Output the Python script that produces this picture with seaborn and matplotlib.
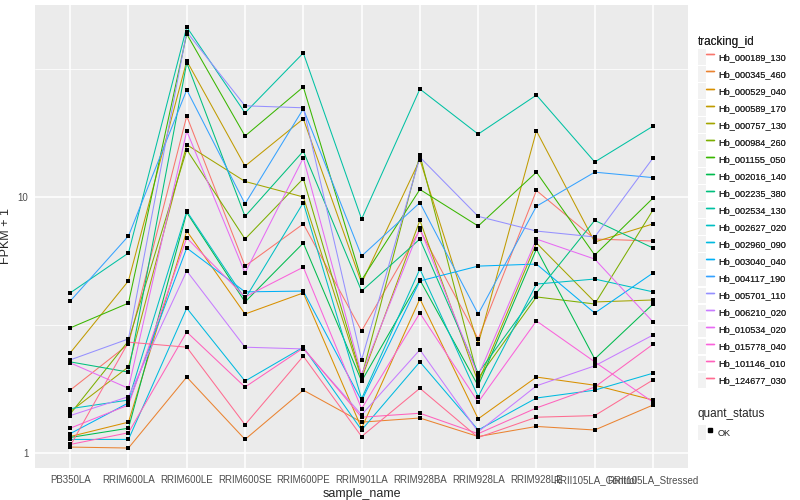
import matplotlib
matplotlib.use('Agg')
import matplotlib.pyplot as plt
import seaborn as sns
import pandas as pd
from matplotlib.lines import Line2D
from matplotlib.patches import Patch
from matplotlib.legend_handler import HandlerTuple
from matplotlib.ticker import FixedLocator

SAMPLES = ['PB350LA', 'RRIM600LA', 'RRIM600LE', 'RRIM600SE', 'RRIM600PE', 'RRIM901LA',
           'RRIM928BA', 'RRIM928LA', 'RRIM928LE', 'RRII105LA_Control', 'RRII105LA_Stressed']

TRACKING_IDS = ['Hb_000189_130', 'Hb_000345_460', 'Hb_000529_040', 'Hb_000589_170',
                'Hb_000757_130', 'Hb_000984_260', 'Hb_001155_050', 'Hb_002016_140',
                'Hb_002235_380', 'Hb_002534_130', 'Hb_002627_020', 'Hb_002960_090',
                'Hb_003040_040', 'Hb_004117_190', 'Hb_005701_110', 'Hb_006210_020',
                'Hb_010534_020', 'Hb_015778_040', 'Hb_101146_010', 'Hb_124677_030']

# FPKM + 1 per sample
hb_000189_130 = [1.76, 2.66, 20.7, 5.37, 7.85, 3.00, 7.43, 2.79, 10.6, 6.85, 6.73]
hb_000345_460 = [1.055, 1.046, 1.98, 1.13, 1.76, 1.32, 1.37, 1.16, 1.27, 1.23, 1.54]
hb_000529_040 = [1.16, 1.32, 7.36, 3.49, 4.22, 1.25, 4.00, 1.36, 1.98, 1.84, 1.61]
hb_000589_170 = [2.46, 4.70, 34.0, 13.2, 20.2, 4.61, 14.0, 2.66, 18.1, 6.67, 7.85]
hb_000757_130 = [1.45, 2.17, 16.0, 11.5, 10.0, 1.95, 8.1, 1.89, 6.61, 3.89, 3.96]
hb_000984_260 = [1.42, 2.74, 15.3, 6.85, 11.8, 1.98, 14.6, 1.96, 4.07, 3.82, 8.9]
hb_001155_050 = [3.08, 3.85, 43.3, 17.3, 26.9, 4.74, 10.7, 7.7, 12.5, 5.93, 9.9]
hb_002016_140 = [1.15, 1.25, 8.7, 3.89, 6.61, 1.91, 4.74, 1.83, 6.26, 2.33, 3.82]
hb_002235_380 = [2.27, 2.07, 33.4, 8.4, 15.1, 4.29, 6.85, 2.05, 4.22, 8.1, 6.32]
hb_002534_130 = [4.22, 6.04, 46.1, 21.3, 36.5, 8.2, 26.4, 17.6, 25.0, 13.7, 18.9]
hb_002627_020 = [1.49, 1.61, 8.8, 4.00, 9.5, 1.63, 5.23, 1.66, 4.57, 4.78, 4.26]
hb_002960_090 = [1.13, 1.13, 3.68, 1.91, 2.59, 1.23, 2.27, 1.23, 1.64, 1.76, 2.05]
hb_003040_040 = [1.19, 1.57, 6.32, 4.26, 4.29, 1.60, 4.70, 5.37, 5.47, 3.52, 5.05]
hb_004117_190 = [3.92, 7.04, 26.2, 9.4, 22.1, 5.88, 9.5, 3.49, 9.2, 12.5, 11.9]
hb_005701_110 = [2.31, 2.79, 44.1, 22.7, 22.3, 2.31, 14.3, 8.4, 7.36, 6.98, 14.2]
hb_006210_020 = [1.40, 1.66, 5.14, 2.59, 2.55, 1.41, 2.53, 1.21, 1.83, 2.19, 2.89]
hb_010534_020 = [2.25, 1.79, 18.1, 5.05, 14.2, 2.02, 7.56, 2.00, 6.85, 5.72, 3.25]
hb_015778_040 = [1.25, 1.54, 6.92, 4.07, 5.32, 1.49, 3.52, 1.58, 3.28, 2.27, 1.58]
hb_101146_010 = [1.08, 1.20, 2.97, 1.81, 2.57, 1.38, 1.43, 1.19, 1.50, 1.81, 2.66]
hb_124677_030 = [1.065, 2.71, 2.59, 1.29, 2.39, 1.16, 1.79, 1.15, 1.38, 1.40, 1.93]

GENE_VALUES = [hb_000189_130, hb_000345_460, hb_000529_040, hb_000589_170, hb_000757_130,
               hb_000984_260, hb_001155_050, hb_002016_140, hb_002235_380, hb_002534_130,
               hb_002627_020, hb_002960_090, hb_003040_040, hb_004117_190, hb_005701_110,
               hb_006210_020, hb_010534_020, hb_015778_040, hb_101146_010, hb_124677_030]

# ggplot2 default hue palette for 20 levels
GG_COLORS = ['#F8766D', '#EA8331', '#D89000', '#C09B00', '#A3A500', '#7CAE00', '#39B600',
             '#00BB4E', '#00BF7D', '#00C1A3', '#00BFC4', '#00BAE0', '#00B0F6', '#35A2FF',
             '#9590FF', '#C77CFF', '#E76BF3', '#FA62DB', '#FF62BC', '#FF6C91']

KEY_BG = '#F2F2F2'


def build_frame():
    rows = []
    for tid, vals in zip(TRACKING_IDS, GENE_VALUES):
        for sample, v in zip(SAMPLES, vals):
            rows.append({'tracking_id': tid, 'sample_name': sample, 'fpkm': v, 'quant_status': 'OK'})
    return pd.DataFrame(rows)


def main():
    sns.set_style('darkgrid', {'axes.facecolor': '#EBEBEB', 'grid.color': 'white'})
    plt.rcParams['font.family'] = ['Liberation Sans', 'DejaVu Sans']

    df = build_frame()
    fig = plt.figure(figsize=(8, 5), dpi=100)
    ax = fig.add_axes([0.044, 0.064, 0.816, 0.926])

    sns.lineplot(data=df, x='sample_name', y='fpkm', hue='tracking_id', hue_order=TRACKING_IDS,
                 palette=GG_COLORS, sort=False, estimator=None, linewidth=0.75, legend=False, ax=ax)
    sns.scatterplot(data=df, x='sample_name', y='fpkm', color='black', marker='s', s=11,
                    linewidth=0, legend=False, ax=ax, zorder=3)

    ax.set_yscale('log')
    ax.set_ylim(0.874, 56.2)
    ax.set_xlim(-0.6, len(SAMPLES) - 0.4)
    ax.yaxis.set_major_locator(FixedLocator([1, 10]))
    ax.set_yticklabels(['1', '10'])
    ax.yaxis.set_minor_locator(FixedLocator([10 ** 0.5, 10 ** 1.5]))
    ax.tick_params(which='minor', length=0)
    ax.tick_params(which='major', length=3, color='#333333', labelsize=7, labelcolor='#4D4D4D', pad=2)
    ax.grid(which='major', color='white', linewidth=1.1)
    ax.grid(which='minor', axis='y', color='white', linewidth=0.55)
    for s in ax.spines.values():
        s.set_visible(False)
    ax.set_xlabel('sample_name', fontsize=9, labelpad=2)
    ax.set_ylabel('FPKM + 1', fontsize=9, labelpad=4)

    tuple_handler = {tuple: HandlerTuple(ndivide=None, pad=0)}
    id_handles = [(Patch(facecolor=KEY_BG, edgecolor='none'), Line2D([0], [0], color=c, lw=1.0))
                  for c in GG_COLORS]
    leg1 = fig.legend(id_handles, TRACKING_IDS, title='tracking_id', loc='upper left',
                      bbox_to_anchor=(0.862, 0.945), frameon=False, fontsize=6.6,
                      title_fontsize=8.5, handlelength=1.8, handleheight=2.25, labelspacing=0.15,
                      handletextpad=0.4, alignment='left', handler_map=tuple_handler)
    fig.add_artist(leg1)
    ok_handle = [(Patch(facecolor=KEY_BG, edgecolor='none'),
                  Line2D([0], [0], marker='s', color='black', linestyle='none', markersize=2.5))]
    fig.legend(ok_handle, ['OK'], title='quant_status', loc='upper left',
               bbox_to_anchor=(0.862, 0.2), frameon=False, fontsize=6.6,
               title_fontsize=8.5, handlelength=1.8, handleheight=2.25, handletextpad=0.4,
               alignment='left', handler_map=tuple_handler)

    fig.savefig('out.png', dpi=100)


if __name__ == '__main__':
    main()
